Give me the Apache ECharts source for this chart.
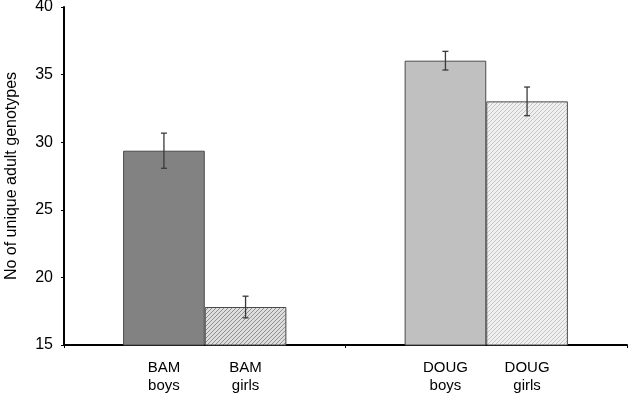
<!DOCTYPE html>
<html>
<head>
<meta charset="utf-8">
<script src="https://cdn.jsdelivr.net/npm/echarts@6/dist/echarts.min.js"></script>
<style>
  html, body { margin: 0; padding: 0; background: #fff; }
  #chart { width: 631px; height: 395px; }
</style>
</head>
<body>
<div id="chart"></div>
<script>
// groups on the x axis
const groups = ['BAM', 'DOUG']
// mean values (boys / girls)
const boysValues = [29.37, 36.03]
const girlsValues = [17.81, 33.02]
// error bar half-widths
const boysErr = [1.3, 0.69]
const girlsErr = [0.8, 1.06]
const yTicks = [15, 20, 25, 30, 35, 40]

// small hatch pattern canvases
function hatch(bg, line) {
  const c = document.createElement('canvas')
  c.width = 4
  c.height = 4
  const ctx = c.getContext('2d')
  ctx.fillStyle = bg
  ctx.fillRect(0, 0, 4, 4)
  ctx.strokeStyle = line
  ctx.lineWidth = 1
  ctx.beginPath()
  ctx.moveTo(0, 4)
  ctx.lineTo(4, 0)
  ctx.moveTo(-1, 1)
  ctx.lineTo(1, -1)
  ctx.moveTo(3, 5)
  ctx.lineTo(5, 3)
  ctx.stroke()
  return c
}

const boysColors = ['#828282', '#c0c0c0']
const girlsPatterns = [
  { image: hatch('#dedede', '#909090'), repeat: 'repeat' },
  { image: hatch('#f0f0f0', '#c4c4c4'), repeat: 'repeat' },
]

const FONT = 'Liberation Sans, Arial, sans-serif'

const chart = echarts.init(document.getElementById('chart'))

function errorSeries(values, errs, offset) {
  return {
    type: 'custom',
    z: 10,
    data: values.map((v, i) => [i, v - errs[i], v + errs[i]]),
    renderItem: (params, api) => {
      const lo = api.coord([api.value(0), api.value(1)])
      const hi = api.coord([api.value(0), api.value(2)])
      const bw = api.size([1, 0])[0]
      const x = lo[0] + offset * bw
      const cap = 3
      const style = { stroke: '#3a3a3a', lineWidth: 1.3 }
      return {
        type: 'group',
        children: [
          { type: 'line', shape: { x1: x, y1: lo[1], x2: x, y2: hi[1] }, style },
          { type: 'line', shape: { x1: x - cap, y1: hi[1], x2: x + cap, y2: hi[1] }, style },
          { type: 'line', shape: { x1: x - cap, y1: lo[1], x2: x + cap, y2: lo[1] }, style },
        ],
      }
    },
  }
}

const barLabel = (who) => ({
  show: true,
  position: 'bottom',
  distance: 13,
  color: '#000',
  fontSize: 15,
  lineHeight: 18,
  fontFamily: FONT,
  formatter: (p) => groups[p.dataIndex] + '\n' + who,
})

chart.setOption({
  animation: false,
  grid: { left: 64, right: 4, top: 7, bottom: 50, outerBoundsMode: 'none' },
  xAxis: {
    type: 'category',
    data: groups,
    axisLine: { lineStyle: { color: '#000', width: 2 } },
    axisTick: { show: true, length: 3, lineStyle: { color: '#000' } },
    axisLabel: { show: false },
  },
  yAxis: {
    type: 'value',
    min: yTicks[0],
    max: yTicks[yTicks.length - 1],
    interval: 5,
    name: 'No of unique adult genotypes',
    nameLocation: 'middle',
    nameGap: 44,
    nameTextStyle: { color: '#000', fontSize: 16, fontFamily: FONT },
    axisLine: { show: true, lineStyle: { color: '#000', width: 2 } },
    axisTick: { show: true, length: 3, lineStyle: { color: '#000' } },
    axisLabel: { color: '#000', fontSize: 16, margin: 11, fontFamily: FONT },
    splitLine: { show: false },
  },
  series: [
    {
      name: 'boys',
      type: 'bar',
      barGap: '0%',
      barCategoryGap: '42%',
      data: boysValues.map((v, i) => ({
        value: v,
        itemStyle: { color: boysColors[i], borderColor: '#4a4a4a', borderWidth: 1 },
      })),
      label: barLabel('boys'),
    },
    {
      name: 'girls',
      type: 'bar',
      data: girlsValues.map((v, i) => ({
        value: v,
        itemStyle: { color: girlsPatterns[i], borderColor: '#4a4a4a', borderWidth: 1 },
      })),
      label: barLabel('girls'),
    },
    errorSeries(boysValues, boysErr, -0.145),
    errorSeries(girlsValues, girlsErr, 0.145),
  ],
})
</script>
</body>
</html>
